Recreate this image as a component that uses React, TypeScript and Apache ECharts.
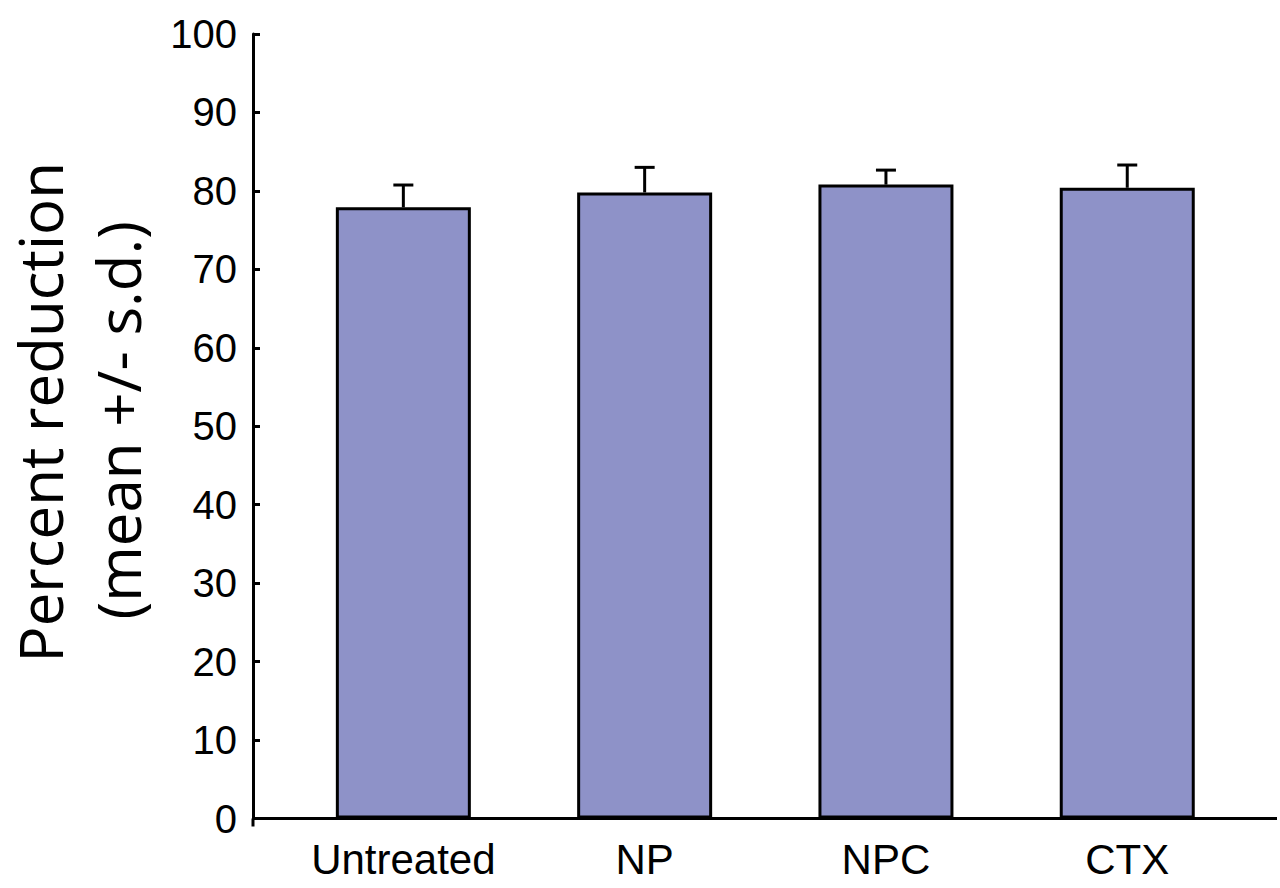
import React, { useEffect, useRef } from "react";
import * as echarts from "echarts";

const categories = ["Untreated", "NP", "NPC", "CTX"];
const means = [77.9, 79.8, 80.8, 80.4];
const sds = [2.85, 3.2, 1.85, 2.9];
const yMin = 0;
const yMax = 100;
const yInterval = 10;
const yTitleLine1 = "Percent reduction";
const yTitleLine2 = "(mean +/- s.d.)";

const GRID_LEFT = 282.7;
const GRID_RIGHT = 32.1;
const GRID_TOP = 34;
const GRID_BOTTOM = 69.5;
const AXIS_X = 253;
const AXIS_Y = 888 - GRID_BOTTOM;

export default function App() {
  const ref = useRef<HTMLDivElement>(null);
  useEffect(() => {
    if (!ref.current) return;
    const chart = echarts.init(ref.current, null, { renderer: "svg" });
    const titleStyle = {
      color: "#000",
      fontFamily: "Open Sans",
      fontSize: 60,
      lineHeight: 78,
    };
    const option: any = {
      animation: false,
      backgroundColor: "#ffffff",
      grid: {
        left: GRID_LEFT,
        right: GRID_RIGHT,
        top: GRID_TOP,
        bottom: GRID_BOTTOM,
        containLabel: false,
        outerBoundsMode: "none",
      },
      xAxis: {
        type: "category",
        data: categories,
        boundaryGap: true,
        axisLine: { show: false },
        axisTick: { show: false },
        axisLabel: {
          interval: 0,
          color: "#000",
          fontFamily: "Liberation Sans",
          fontSize: 42,
          margin: 20,
        },
        splitLine: { show: false },
      },
      yAxis: {
        type: "value",
        min: yMin,
        max: yMax,
        interval: yInterval,
        offset: GRID_LEFT - AXIS_X,
        name: `{a|${yTitleLine1}}\n{b|${yTitleLine2}}`,
        nameLocation: "middle",
        nameRotate: 90,
        nameGap: 96,
        nameTextStyle: {
          ...titleStyle,
          rich: {
            a: { ...titleStyle, padding: [0, 0, 0, 28] },
            b: { ...titleStyle, padding: [0, 0, 0, 12] },
          },
        },
        axisLine: { show: true, lineStyle: { color: "#000", width: 3 } },
        axisTick: { show: true, inside: true, length: 7, lineStyle: { color: "#000", width: 3 } },
        axisLabel: {
          color: "#000",
          fontFamily: "Liberation Sans",
          fontSize: 40,
          margin: 16,
          padding: [0, 0, 12, 0],
        },
        splitLine: { show: false },
      },
      graphic: [
        {
          type: "line",
          shape: { x1: AXIS_X, y1: AXIS_Y, x2: 1277, y2: AXIS_Y },
          style: { stroke: "#000", lineWidth: 3 },
          z: 10,
        },
        {
          type: "line",
          shape: { x1: AXIS_X, y1: AXIS_Y, x2: AXIS_X, y2: AXIS_Y + 8 },
          style: { stroke: "#000", lineWidth: 3 },
          z: 10,
        },
      ],
      series: [
        {
          type: "bar",
          data: means,
          barWidth: 135,
          itemStyle: { color: "#8e92c8", borderColor: "#000", borderWidth: 3 },
          z: 2,
        },
        {
          type: "custom",
          data: categories.map((_, i) => [i, means[i], sds[i]]),
          z: 3,
          renderItem: (params: any, api: any) => {
            const x = api.value(0);
            const m = api.value(1);
            const s = api.value(2);
            const base = api.coord([x, m]);
            const top = api.coord([x, m + s]);
            return {
              type: "group",
              children: [
                {
                  type: "line",
                  shape: { x1: base[0], y1: base[1], x2: top[0], y2: top[1] },
                  style: { stroke: "#000", lineWidth: 3 },
                },
                {
                  type: "line",
                  shape: { x1: top[0] - 10, y1: top[1], x2: top[0] + 10, y2: top[1] },
                  style: { stroke: "#000", lineWidth: 3 },
                },
              ],
            };
          },
        },
      ],
    };
    chart.setOption(option);
    return () => chart.dispose();
  }, []);
  return (
    <div
      ref={ref}
      style={{ position: "fixed", left: 0, top: 0, width: 1280, height: 888 }}
    />
  );
}
